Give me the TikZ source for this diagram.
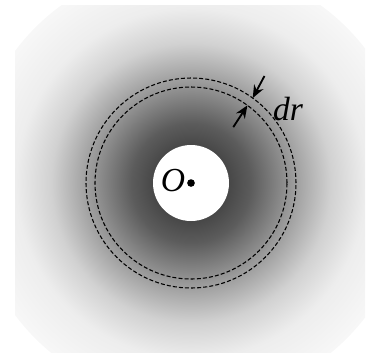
\documentclass[tikz,border=0pt]{standalone}
\usepackage{fontspec}
\setmainfont{Liberation Serif}
\usetikzlibrary{arrows.meta}

% Helligkeitsverlauf um den Hohlraum
\pgfdeclareradialshading{halo}{\pgfpoint{0bp}{0bp}}{%
    color(0bp)=(black!72);
    color(4.3bp)=(black!72);
    color(6.8bp)=(black!64);
    color(11.4bp)=(black!40);
    color(15.9bp)=(black!18);
    color(19.9bp)=(black!7);
    color(25bp)=(black!3);
    color(50bp)=(black!3)}

\tikzset{
    shell/.style={
        draw=black,
        line width=.35pt,
        dash pattern=on 1.3pt off .7pt
    },
    width/.style={
        -{Stealth[length=4.2pt,width=3.4pt]},
        line width=.6pt
    },
    dot/.style={
        circle,
        fill=black,
        inner sep=0pt,
        minimum size=2.5pt
    },
    lbl/.style={
        inner sep=0pt,
        font=\fontsize{11}{13}\selectfont\itshape
    }
}

\begin{document}
\begin{tikzpicture}[x=0.0115cm,y=0.0115cm]
    \useasboundingbox (0,0) rectangle (369,352);
    \coordinate (O) at (191,169);

    % Hintergrund
    \begin{scope}
        \clip (15,0) rectangle (365,347);
        \shade[shading=halo] (O) circle (220);
    \end{scope}

    % Hohlraum und Kugelschale
    \fill[white] (O) circle (38);
    \draw[shell] (O) circle (96);
    \draw[shell] (O) circle (105);

    \path
        node[dot] at (O)         (centre) {}
        node[lbl] at (173,171)   (olabel) {O}
        node[lbl] at (288,243)   (drlabel) {dr};

    % Dicke dr
    \path (O) ++(54:105) coordinate (tip1) ++(62:25) coordinate (tail1);
    \path (O) ++(54:96) coordinate (tip2) ++(237:26) coordinate (tail2);
    \draw[width] (tail1) -- (tip1);
    \draw[width] (tail2) -- (tip2);
\end{tikzpicture}
\end{document}
